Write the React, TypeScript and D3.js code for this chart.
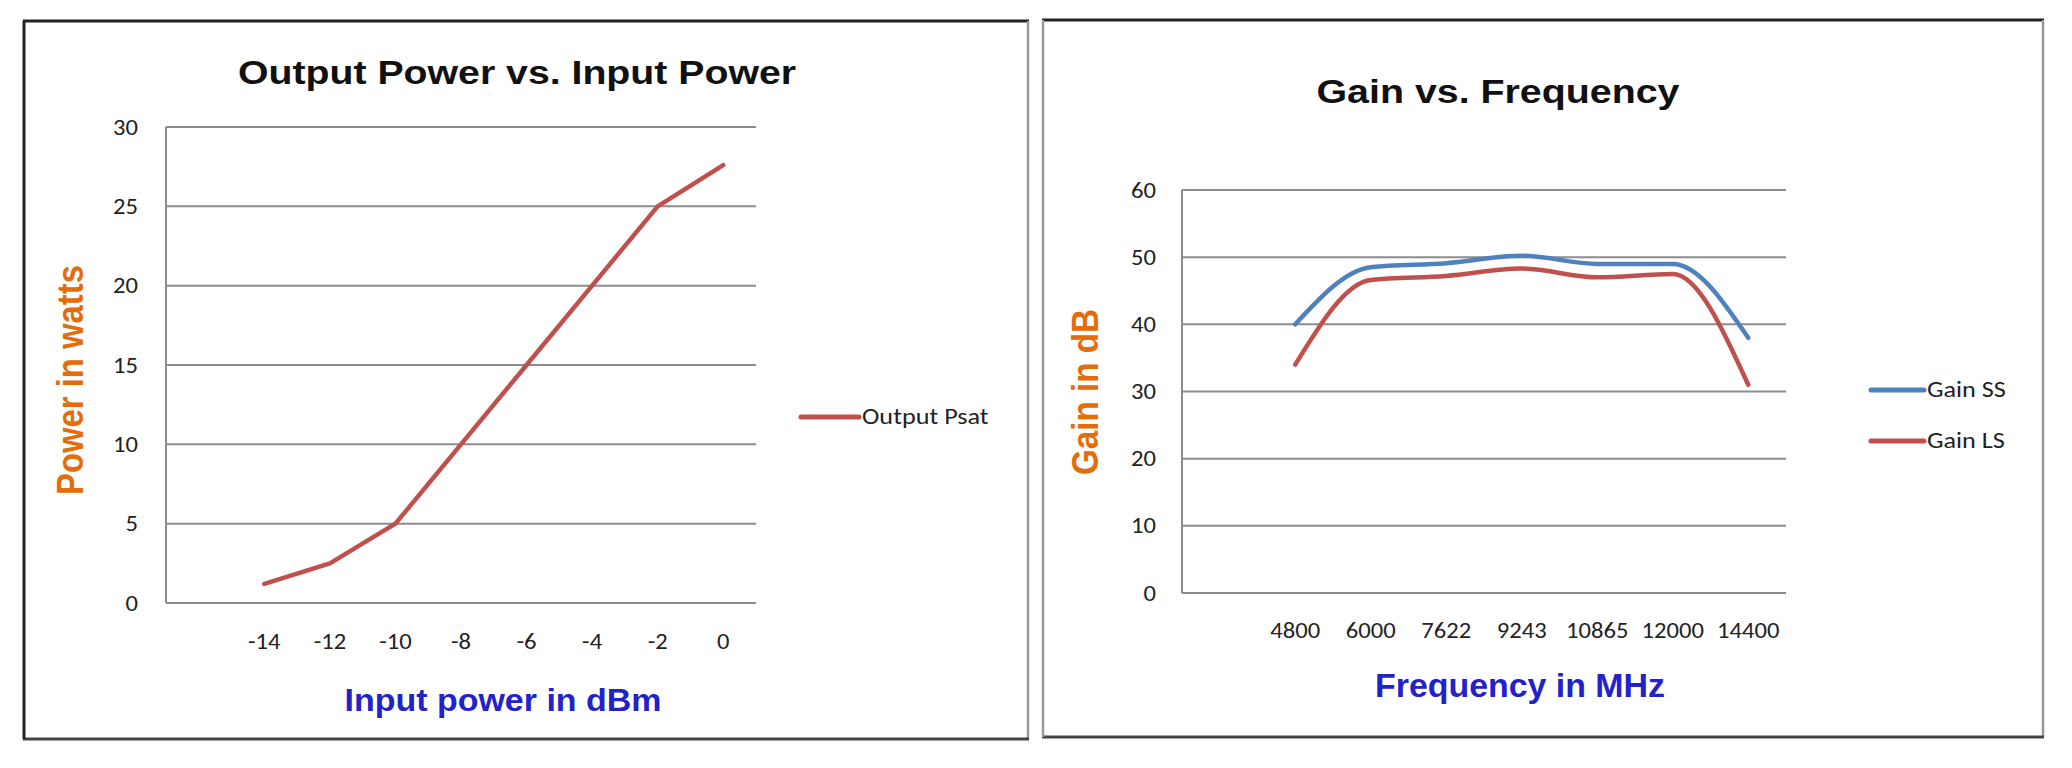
import React from "react";
import * as d3 from "d3";

// ---------- data ----------
const powerInputs = ["-14", "-12", "-10", "-8", "-6", "-4", "-2", "0"];
const outputPsat = [1.2, 2.5, 5, 10, 15, 20, 25, 27.6];
const powerTicks = [0, 5, 10, 15, 20, 25, 30];

const frequencies = ["4800", "6000", "7622", "9243", "10865", "12000", "14400"];
const gainSS = [40, 48.5, 49.1, 50.2, 49, 49, 38];
const gainLS = [34, 46.6, 47.2, 48.3, 47, 47.5, 31];
const gainTicks = [0, 10, 20, 30, 40, 50, 60];

// ---------- styles ----------
const RED = "#C0504D";
const BLUE = "#4F81BD";
const ORANGE = "#E46C0A";
const NAVY = "#2222C8";
const GRID = "#8c8c8c";
const BOLD_FONT = "'Liberation Sans', Arial, sans-serif";
const TICK_FONT = "Carlito, Calibri, Lato, sans-serif";
const TICK_SX = 1.12;

type Series = { name: string; values: number[]; color: string };

type ChartProps = {
  frame: { x0: number; y0: number; x1: number; y1: number; sides: [string, string, string, string] };
  plot: { left: number; right: number; top: number; bottom: number };
  title: { text: string; x: number; y: number; len: number };
  yLabel: { text: string; x: number; y: number; len: number };
  xLabel: { text: string; x: number; y: number; len: number; size: number };
  categories: string[];
  series: Series[];
  ticks: number[];
  yTickRight: number;
  xTickY: number;
  legend: { lineX0: number; lineX1: number; ys: number[] };
  curve: d3.CurveFactory;
};

function Chart(p: ChartProps) {
  const { plot } = p;
  const x = d3
    .scaleBand<string>()
    .domain(["__blank", ...p.categories])
    .range([plot.left, plot.right]);
  const xc = (c: string) => (x(c) as number) + x.bandwidth() / 2;
  const y = d3
    .scaleLinear()
    .domain([p.ticks[0], p.ticks[p.ticks.length - 1]])
    .range([plot.bottom, plot.top]);
  const line = d3
    .line<number>()
    .x((_, i) => xc(p.categories[i]))
    .y((d) => y(d))
    .curve(p.curve);
  const f = p.frame;
  const [top, right, bottom, left] = f.sides;
  return (
    <g>
      <rect x={f.x0} y={f.y0} width={f.x1 - f.x0} height={f.y1 - f.y0} fill="#fff" />
      <line x1={f.x0 - 1} x2={f.x1 + 1} y1={f.y0} y2={f.y0} stroke={top} strokeWidth={3} />
      <line x1={f.x1} x2={f.x1} y1={f.y0} y2={f.y1} stroke={right} strokeWidth={2.5} />
      <line x1={f.x0 - 1} x2={f.x1 + 1} y1={f.y1} y2={f.y1} stroke={bottom} strokeWidth={3} />
      <line x1={f.x0} x2={f.x0} y1={f.y0} y2={f.y1} stroke={left} strokeWidth={left === "#222" ? 3 : 2.5} />

      <text
        x={p.title.x}
        y={p.title.y}
        textAnchor="middle"
        fontFamily={BOLD_FONT}
        fontWeight="bold"
        fontSize={34}
        fill="#111"
        textLength={p.title.len}
        lengthAdjust="spacingAndGlyphs"
      >
        {p.title.text}
      </text>

      {p.ticks.map((t) => (
        <line key={"g" + t} x1={plot.left} x2={plot.right} y1={y(t)} y2={y(t)} stroke={GRID} strokeWidth={2} />
      ))}
      <line x1={plot.left} x2={plot.left} y1={plot.top} y2={plot.bottom} stroke={GRID} strokeWidth={2} />

      {p.ticks.map((t) => (
        <text
          key={"yt" + t}
          transform={`translate(${p.yTickRight},${y(t)}) scale(${TICK_SX},1)`}
          textAnchor="end"
          dominantBaseline="central"
          fontFamily={TICK_FONT}
          fontSize={22}
          fill="#222"
        >
          {t}
        </text>
      ))}
      {p.categories.map((c) => (
        <text
          key={"xt" + c}
          transform={`translate(${xc(c)},${p.xTickY}) scale(${TICK_SX},1)`}
          textAnchor="middle"
          dominantBaseline="central"
          fontFamily={TICK_FONT}
          fontSize={22}
          fill="#222"
        >
          {c}
        </text>
      ))}

      <text
        transform={`translate(${p.yLabel.x},${p.yLabel.y}) scale(1.12,1) rotate(-90)`}
        textAnchor="middle"
        fontFamily={BOLD_FONT}
        fontWeight="bold"
        fontSize={33}
        fill={ORANGE}
        textLength={p.yLabel.len}
        lengthAdjust="spacingAndGlyphs"
      >
        {p.yLabel.text}
      </text>
      <text
        x={p.xLabel.x}
        y={p.xLabel.y}
        textAnchor="middle"
        fontFamily={BOLD_FONT}
        fontWeight="bold"
        fontSize={p.xLabel.size}
        fill={NAVY}
        textLength={p.xLabel.len}
        lengthAdjust="spacingAndGlyphs"
      >
        {p.xLabel.text}
      </text>

      {p.series.map((s) => (
        <path
          key={"s" + s.name}
          d={line(s.values) || ""}
          fill="none"
          stroke={s.color}
          strokeWidth={4.5}
          strokeLinecap="round"
          strokeLinejoin="round"
        />
      ))}

      {p.series.map((s, i) => (
        <g key={"l" + s.name}>
          <line
            x1={p.legend.lineX0}
            x2={p.legend.lineX1}
            y1={p.legend.ys[i]}
            y2={p.legend.ys[i]}
            stroke={s.color}
            strokeWidth={5}
            strokeLinecap="round"
          />
          <text
            transform={`translate(${p.legend.lineX1 + 3},${p.legend.ys[i]}) scale(1.14,1)`}
            dominantBaseline="central"
            fontFamily={TICK_FONT}
            fontSize={23}
            fill="#222"
          >
            {s.name}
          </text>
        </g>
      ))}
    </g>
  );
}

export default function App() {
  return (
    <svg
      width={2072}
      height={768}
      style={{ position: "absolute", left: 0, top: 0, background: "#fff" }}
    >
      <rect x={0} y={0} width={2072} height={768} fill="#fff" />
      <Chart
        frame={{ x0: 24, y0: 21, x1: 1028, y1: 739, sides: ["#222", "#999", "#444", "#222"] }}
        plot={{ left: 166, right: 756, top: 127, bottom: 603 }}
        title={{ text: "Output Power vs. Input Power", x: 517, y: 84, len: 558 }}
        yLabel={{ text: "Power in watts", x: 83, y: 380, len: 230 }}
        xLabel={{ text: "Input power in dBm", x: 503, y: 711, len: 317, size: 32 }}
        categories={powerInputs}
        series={[{ name: "Output Psat", values: outputPsat, color: RED }]}
        ticks={powerTicks}
        yTickRight={138}
        xTickY={641}
        legend={{ lineX0: 801, lineX1: 859, ys: [417] }}
        curve={d3.curveLinear}
      />
      <Chart
        frame={{ x0: 1043, y0: 20, x1: 2043, y1: 737, sides: ["#222", "#999", "#444", "#999"] }}
        plot={{ left: 1182, right: 1786, top: 190, bottom: 593 }}
        title={{ text: "Gain vs. Frequency", x: 1498, y: 103, len: 363 }}
        yLabel={{ text: "Gain in dB", x: 1098, y: 392, len: 166 }}
        xLabel={{ text: "Frequency in MHz", x: 1520, y: 697, len: 290, size: 33 }}
        categories={frequencies}
        series={[
          { name: "Gain SS", values: gainSS, color: BLUE },
          { name: "Gain LS", values: gainLS, color: RED },
        ]}
        ticks={gainTicks}
        yTickRight={1156}
        xTickY={630}
        legend={{ lineX0: 1871, lineX1: 1924, ys: [390, 441] }}
        curve={d3.curveMonotoneX}
      />
    </svg>
  );
}
